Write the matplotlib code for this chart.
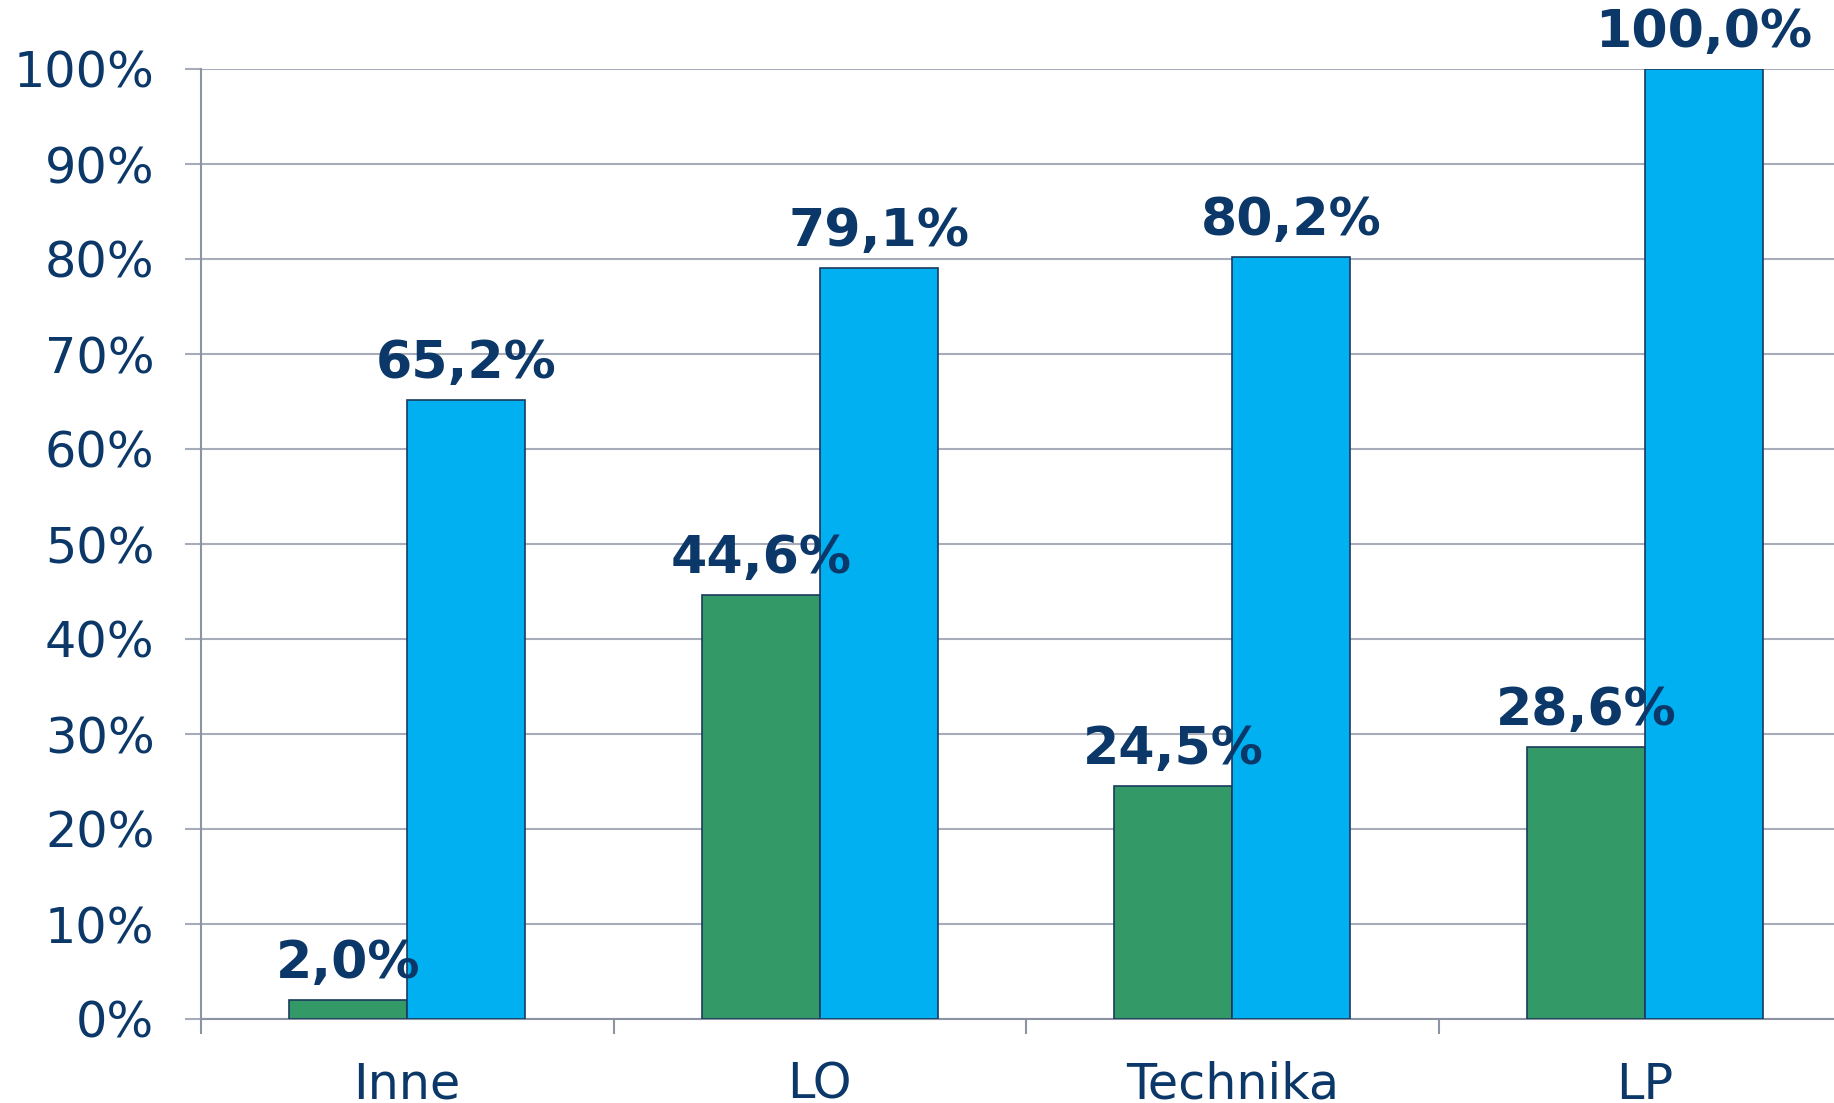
import matplotlib
matplotlib.use("Agg")
import matplotlib.pyplot as plt
import numpy as np

categories = ["Inne", "LO", "Technika", "LP"]
series_green = [2.0, 44.6, 24.5, 28.6]
series_blue = [65.2, 79.1, 80.2, 100.0]
yticks = [0, 10, 20, 30, 40, 50, 60, 70, 80, 90, 100]

W, H, DPI = 1834, 1103, 100
fig = plt.figure(figsize=(W / DPI, H / DPI), dpi=DPI)
left = 201 / W
right = 1851 / W
bottom = 1 - 1019 / H
top = 1 - 69 / H
ax = fig.add_axes([left, bottom, right - left, top - bottom])

navy = "#0B3868"
green = "#339966"
blue = "#00B0F0"
edge = "#1B3A5E"
grid = "#A7ACBA"
axis_c = "#8C93A3"

x = np.arange(len(categories))
w = 0.286
b1 = ax.bar(x - w / 2, series_green, width=w, color=green, edgecolor=edge, linewidth=1.2, zorder=3)
b2 = ax.bar(x + w / 2, series_blue, width=w, color=blue, edgecolor=edge, linewidth=1.2, zorder=3)

for bars, vals in ((b1, series_green), (b2, series_blue)):
    for r, v in zip(bars, vals):
        ax.annotate(f"{v:.1f}".replace(".", ",") + "%",
                    (r.get_x() + r.get_width() / 2, v),
                    xytext=(0, 11), textcoords="offset pixels",
                    ha="center", va="bottom", fontsize=37.5, fontweight="bold",
                    color=navy, zorder=5, annotation_clip=False)

ax.set_xlim(-0.5, 3.5)
ax.set_ylim(0, 100)
ax.set_yticks(yticks)
ax.set_yticklabels([f"{t}%" for t in yticks])
ax.set_xticks(x)
ax.set_xticklabels(categories)
ax.set_xticks(np.arange(-0.5, 4.0, 1.0), minor=True)

ax.yaxis.grid(True, color=grid, linewidth=1.5, zorder=0)
ax.set_axisbelow(True)
for s in ("top", "right"):
    ax.spines[s].set_visible(False)
ax.spines["left"].set_color(axis_c)
ax.spines["left"].set_linewidth(1.5)
ax.spines["bottom"].set_color(axis_c)
ax.spines["bottom"].set_linewidth(1.5)

ax.tick_params(axis="y", length=11.5, width=1.5, color=grid, labelsize=35.5, labelcolor=navy, pad=22)
ax.tick_params(axis="x", which="major", length=0, labelsize=35.5, labelcolor=navy, pad=30)
ax.tick_params(axis="x", which="minor", length=11, width=1.5, color=axis_c)

fig.savefig("out.png", dpi=DPI)
